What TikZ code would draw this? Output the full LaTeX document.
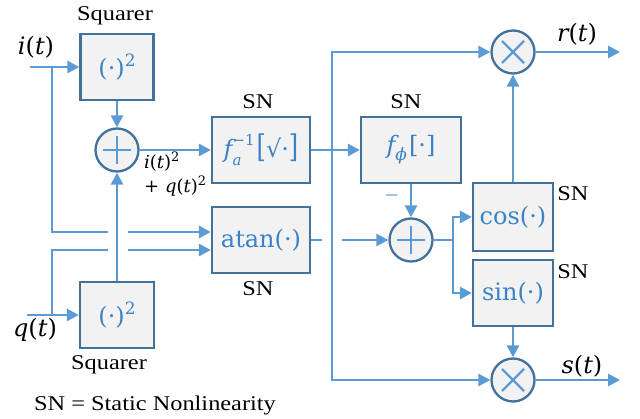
\documentclass[tikz,border=0pt]{standalone}
\usepackage{graphicx}
\usepackage{fontspec}
\setmainfont{Liberation Serif}
\newfontfamily\bxf{DejaVu Serif}
\usetikzlibrary{arrows.meta}
\definecolor{lineblue}{RGB}{91,155,213}
\definecolor{edgeblue}{RGB}{65,113,156}
\definecolor{boxgray}{RGB}{242,242,242}
\definecolor{txtblue}{RGB}{58,130,200}
\newcommand\hs[1]{\scalebox{1.16}[1]{#1}}
\newcommand\subsup[2]{\makebox[0pt][l]{\raisebox{-8pt}{\fontsize{15}{15}\selectfont #1}}\raisebox{12pt}{\fontsize{15}{15}\selectfont #2}}
\newcommand\sqr{\fontsize{17}{17}\selectfont\raisebox{10pt}{2}}
\begin{document}
\begin{tikzpicture}[x=1pt,y=-1pt,
  blk/.style={draw=edgeblue,fill=boxgray,line width=2.3pt,inner sep=0pt,
    text=txtblue,font=\bxf\fontsize{24}{28}\selectfont},
  circ/.style={circle,draw=edgeblue,fill=boxgray,line width=2.3pt,minimum size=43pt,inner sep=0pt},
  sym/.style={draw=lineblue,line width=2.2pt},
  wire/.style={draw=lineblue,line width=2.7pt},
  arr/.style={wire,-{Triangle[length=12pt,width=12pt]}},
  lbl/.style={inner sep=0pt,font=\fontsize{21}{24}\selectfont},
  mlbl/.style={inner sep=0pt,font=\bxf\fontsize{24}{28}\selectfont},
  slbl/.style={inner sep=0pt,font=\bxf\fontsize{18}{24}\selectfont,align=left}]
\useasboundingbox (0,0) rectangle (640,419);
% blocks
\node[blk,minimum width=73pt,minimum height=66pt] (sq1) at (117,67) {(·)\sqr};
\node[blk,minimum width=74pt,minimum height=66pt] (sq2) at (117,315) {(·)\sqr};
\node[circ] (s1) at (117,150) {};
\node[blk,minimum width=98pt,minimum height=66pt] (fa) at (261,150) {\itshape f\subsup{a}{\upshape −1}\upshape\hspace{2pt}\scalebox{1}[1.3]{[}√·\scalebox{1}[1.3]{]}};
\node[blk,minimum width=98pt,minimum height=66pt] (at) at (261,240) {atan(·)};
\node[blk,minimum width=100pt,minimum height=66pt] (fp) at (411,150) {\itshape f\raisebox{-7pt}{\fontsize{17}{17}\selectfont ϕ}\upshape\hspace{2pt}[·]};
\node[circ] (s2) at (411,240) {};
\node[blk,minimum width=80pt,minimum height=68pt] (cs) at (513,217) {cos(·)};
\node[blk,minimum width=80pt,minimum height=66pt] (sn) at (513,293) {sin(·)};
\node[circ] (m1) at (513,52) {};
\node[circ] (m2) at (513,380) {};
% symbols
\draw[sym] ([xshift=-14pt]s1.center) -- ([xshift=14pt]s1.center);
\draw[sym] ([yshift=-14pt]s1.center) -- ([yshift=14pt]s1.center);
\draw[sym] ([xshift=-14pt]s2.center) -- ([xshift=14pt]s2.center);
\draw[sym] ([yshift=-14pt]s2.center) -- ([yshift=14pt]s2.center);
\draw[sym] ([shift={(-11pt,-11pt)}]m1.center) -- ([shift={(11pt,11pt)}]m1.center);
\draw[sym] ([shift={(-11pt,11pt)}]m1.center) -- ([shift={(11pt,-11pt)}]m1.center);
\draw[sym] ([shift={(-11pt,-11pt)}]m2.center) -- ([shift={(11pt,11pt)}]m2.center);
\draw[sym] ([shift={(-11pt,11pt)}]m2.center) -- ([shift={(11pt,-11pt)}]m2.center);
% labels
\node[lbl] (tsq1) at (115,16) {\hs{Squarer}};
\node[lbl] (tsq2) at (109,365) {\hs{Squarer}};
\node[lbl] (tfa) at (258,102) {\hs{SN}};
\node[lbl] (tfp) at (406,102) {\hs{SN}};
\node[lbl] (tat) at (258,289) {\hs{SN}};
\node[lbl] (tcs) at (573,194) {\hs{SN}};
\node[lbl] (tsn) at (573,272) {\hs{SN}};
\node[lbl] (leg) at (155,405) {\hs{SN = Static Nonlinearity}};
\node[mlbl] (li) at (36,47) {\itshape i\upshape(\itshape t\upshape)};
\node[mlbl] (lq) at (35,330) {\itshape q\upshape(\itshape t\upshape)};
\node[mlbl] (lr) at (577,34) {\itshape r\upshape(\itshape t\upshape)};
\node[mlbl] (ls) at (582,366) {\itshape s\upshape(\itshape t\upshape)};
\node[slbl,anchor=north west] (lsum) at (144,152) {\itshape i\upshape(\itshape t\upshape)\raisebox{7pt}{\fontsize{13}{13}\selectfont 2}\\+ \itshape q\upshape(\itshape t\upshape)\raisebox{7pt}{\fontsize{13}{13}\selectfont 2}};
\node[inner sep=0pt,text=lineblue,font=\fontsize{24}{24}\selectfont] (minus) at (392,199) {−};
% connectors
\coordinate (iin) at (30,67);
\coordinate (ib) at (52,67);
\coordinate (ih) at (108,232);
\coordinate (ih2) at (128,232);
\coordinate (qin) at (27,315);
\coordinate (qb) at (52,315);
\coordinate (qh) at (108,250);
\coordinate (qh2) at (128,250);
\draw[arr] (iin) -- (sq1.west);
\draw[wire] (ib) |- (ih);
\draw[arr] (ih2) -- (ih2 -| at.west);
\draw[arr] (qin) -- (sq2.west);
\draw[wire] (qb) |- (qh);
\draw[arr] (qh2) -- (qh2 -| at.west);
\draw[arr] (sq1.south) -- (s1.north);
\draw[arr] (sq2.north) -- (s1.south);
\draw[arr] (s1.east) -- (fa.west);
\draw[arr] (fa.east) -- (fp.west);
\coordinate (j) at (332,150);
\draw[arr] (j) |- (m1.west);
\draw[arr] (j) |- (m2.west);
\coordinate (ao) at (322,240);
\coordinate (ao2) at (342,240);
\draw[wire] (at.east) -- (ao);
\draw[arr] (ao2) -- (s2.west);
\draw[arr] (fp.south) -- (s2.north);
\coordinate (sp) at (453,240);
\draw[wire] (s2.east) -- (sp);
\draw[arr] (sp) |- (cs.west);
\draw[arr] (sp) |- (sn.west);
\draw[arr] (cs.north) -- (m1.south);
\draw[arr] (sn.south) -- (m2.north);
\coordinate (ro) at (620,52);
\coordinate (so) at (620,380);
\draw[arr] (m1.east) -- (ro);
\draw[arr] (m2.east) -- (so);
\end{tikzpicture}
\end{document}
